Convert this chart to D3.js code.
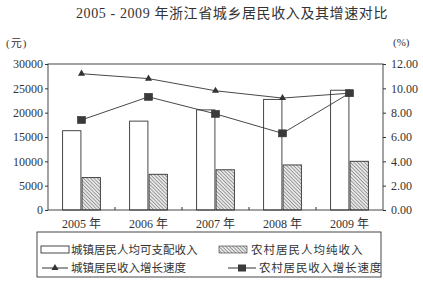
<!DOCTYPE html>
<html><head><meta charset="utf-8">
<script src="https://cdn.jsdelivr.net/npm/d3@7"></script>
<style>
body{margin:0;background:#fff;}
svg{display:block;font-family:"Liberation Serif","Noto Sans CJK SC",serif;}
</style></head>
<body><svg id="c" width="423" height="282"></svg>
<script>
const years = ["2005 年","2006 年","2007 年","2008 年","2009 年"];
const urbanIncome = [16294, 18265, 20574, 22727, 24611];
const ruralIncome = [6660, 7335, 8265, 9258, 10007];
const urbanGrowth = [11.2, 10.8, 9.8, 9.2, 9.6];
const ruralGrowth = [7.4, 9.3, 7.9, 6.3, 9.6];
const leftTicks = [0,5000,10000,15000,20000,25000,30000];
const rightTicks = [0,2,4,6,8,10,12];
const seriesNames = ["城镇居民人均可支配收入","农村居民人均纯收入","城镇居民收入增长速度","农村居民收入增长速度"];
const titleText = "2005 - 2009 年浙江省城乡居民收入及其增速对比";

const svg = d3.select("#c");
const ink = "#333";
const L=48, R=383, T=64, B=210;

const defs = svg.append("defs");
const pat = defs.append("pattern").attr("id","hatch").attr("patternUnits","userSpaceOnUse")
  .attr("width",2.5).attr("height",2.5).attr("patternTransform","rotate(-45)");
pat.append("rect").attr("width",2.5).attr("height",2.5).attr("fill","#e8e8e8");
pat.append("line").attr("x1",0).attr("y1",0).attr("x2",0).attr("y2",2.5).attr("stroke","#555").attr("stroke-width",1);

const x = d3.scaleBand().domain(years).range([L,R]).padding(0);
const x1 = d3.scaleBand().domain([0,1]).range([0,x.bandwidth()]).paddingInner(0.06).paddingOuter(0.75);
const yL = d3.scaleLinear().domain([0,30000]).range([B,T]);
const yR = d3.scaleLinear().domain([0,12]).range([B,T]);

// title
svg.append("text").attr("x",232).attr("y",18).attr("text-anchor","middle")
  .attr("font-size",14).attr("letter-spacing",0.6).attr("fill",ink).text(titleText);
svg.append("text").attr("x",6).attr("y",47).attr("font-size",11).attr("letter-spacing",1).attr("fill",ink).text("(元)");
svg.append("text").attr("x",393).attr("y",46).attr("font-size",11).attr("fill",ink).text("(%)");

// bars
const g = svg.append("g");
years.forEach((yr,i)=>{
  g.append("rect").attr("x",x(yr)+x1(0)).attr("y",yL(urbanIncome[i]))
   .attr("width",x1.bandwidth()).attr("height",B-yL(urbanIncome[i]))
   .attr("fill","#fff").attr("stroke",ink).attr("stroke-width",0.9);
  g.append("rect").attr("x",x(yr)+x1(1)).attr("y",yL(ruralIncome[i]))
   .attr("width",x1.bandwidth()).attr("height",B-yL(ruralIncome[i]))
   .attr("fill","url(#hatch)").attr("stroke",ink).attr("stroke-width",0.9);
});

// frame
svg.append("rect").attr("x",L).attr("y",T).attr("width",R-L).attr("height",B-T)
  .attr("fill","none").attr("stroke",ink).attr("stroke-width",0.9);

// axes
const axL = svg.append("g").attr("transform",`translate(${L},0)`)
  .call(d3.axisLeft(yL).tickValues(leftTicks).tickSize(3).tickFormat(d3.format("d")));
const axR = svg.append("g").attr("transform",`translate(${R},0)`)
  .call(d3.axisRight(yR).tickValues(rightTicks).tickSize(3).tickFormat(d3.format(".2f")));
const axB = svg.append("g").attr("transform",`translate(0,${B})`)
  .call(d3.axisBottom(x).tickSize(0).tickPadding(9));
[axL,axR,axB].forEach(a=>{
  a.select(".domain").remove();
  a.selectAll("line").attr("stroke",ink);
  a.selectAll("text").attr("fill",ink).attr("font-size",12)
   .attr("font-family",'"Liberation Serif","Noto Sans CJK SC",serif');
});
axL.selectAll("text").attr("x",-5);
axR.selectAll("text").attr("x",8);
// bottom category tick marks at band boundaries
svg.append("g").selectAll("line").data(years.slice(1)).join("line")
  .attr("x1",d=>x(d)).attr("x2",d=>x(d)).attr("y1",B).attr("y2",B-3).attr("stroke",ink);

// lines
const cx = d=>x(d)+x.bandwidth()/2;
const line = d3.line().x(d=>cx(d[0])).y(d=>yR(d[1]));
const uPts = years.map((y,i)=>[y,urbanGrowth[i]]);
const rPts = years.map((y,i)=>[y,ruralGrowth[i]]);
svg.append("path").attr("d",line(uPts)).attr("fill","none").attr("stroke",ink).attr("stroke-width",0.9);
svg.append("path").attr("d",line(rPts)).attr("fill","none").attr("stroke",ink).attr("stroke-width",0.9);
const tri = d3.symbol().type(d3.symbolTriangle).size(22);
svg.append("g").selectAll("path").data(uPts).join("path")
  .attr("transform",d=>`translate(${cx(d[0])},${yR(d[1])})`).attr("d",tri()).attr("fill",ink);
svg.append("g").selectAll("rect").data(rPts).join("rect")
  .attr("x",d=>cx(d[0])-4).attr("y",d=>yR(d[1])-3.5).attr("width",8).attr("height",7)
  .attr("fill","#3a3a3a").attr("stroke",ink).attr("stroke-width",0.6);

// legend
const lg = svg.append("g");
lg.append("rect").attr("x",37).attr("y",232).attr("width",344).attr("height",45)
  .attr("fill","none").attr("stroke",ink).attr("stroke-width",0.9);
const r1 = 250, r2 = 268, fs = 11.5;
lg.append("rect").attr("x",41).attr("y",r1-4).attr("width",28).attr("height",7).attr("fill","#fff").attr("stroke",ink).attr("stroke-width",0.9);
lg.append("text").attr("x",71).attr("y",r1+4).attr("font-size",fs).attr("fill",ink).text(seriesNames[0]);
lg.append("rect").attr("x",219).attr("y",r1-4).attr("width",28).attr("height",7).attr("fill","url(#hatch)").attr("stroke",ink).attr("stroke-width",0.6);
lg.append("text").attr("x",251).attr("y",r1+4).attr("font-size",fs).attr("letter-spacing",1).attr("fill",ink).text(seriesNames[1]);
lg.append("line").attr("x1",42).attr("x2",68).attr("y1",r2).attr("y2",r2).attr("stroke",ink);
lg.append("path").attr("transform",`translate(55,${r2})`).attr("d",tri()).attr("fill",ink);
lg.append("text").attr("x",71).attr("y",r2+4).attr("font-size",fs).attr("fill",ink).text(seriesNames[2]);
lg.append("line").attr("x1",228).attr("x2",256).attr("y1",r2).attr("y2",r2).attr("stroke",ink);
lg.append("rect").attr("x",238).attr("y",r2-3.5).attr("width",8).attr("height",7).attr("fill","#3a3a3a");
lg.append("text").attr("x",259).attr("y",r2+4).attr("font-size",fs).attr("letter-spacing",0.8).attr("fill",ink).text(seriesNames[3]);
</script></body></html>
